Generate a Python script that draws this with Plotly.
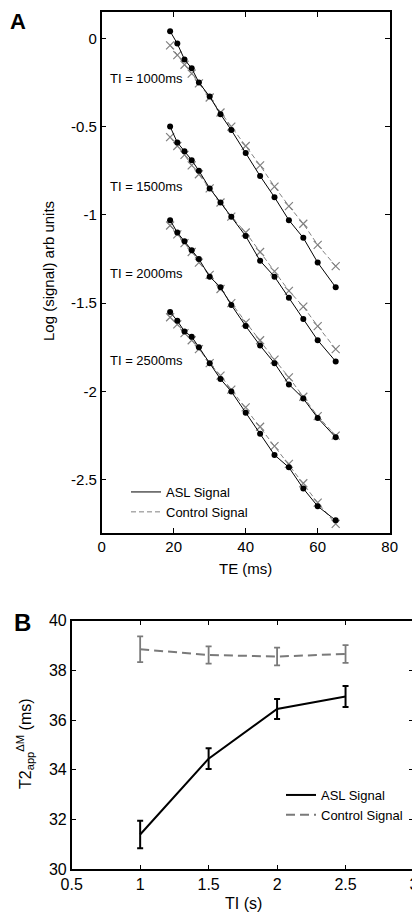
import plotly.graph_objects as go

# ---------------- Panel A data ----------------
te_ms = [19, 21, 23, 25, 27, 30, 33, 36, 40, 44, 48, 52, 56, 60, 65]
ti_labels = ["TI = 1000ms", "TI = 1500ms", "TI = 2000ms", "TI = 2500ms"]
ti_label_y = [-0.225, -0.84, -1.33, -1.825]

asl_1000 = [0.04, -0.03, -0.12, -0.17, -0.25, -0.33, -0.43, -0.52, -0.65, -0.78, -0.90, -1.03, -1.13, -1.27, -1.41]
ctl_1000 = [-0.04, -0.095, -0.15, -0.20, -0.255, -0.335, -0.42, -0.50, -0.61, -0.72, -0.84, -0.95, -1.05, -1.17, -1.29]
asl_1500 = [-0.50, -0.59, -0.64, -0.69, -0.75, -0.85, -0.93, -1.01, -1.12, -1.26, -1.35, -1.47, -1.59, -1.71, -1.83]
ctl_1500 = [-0.56, -0.61, -0.66, -0.72, -0.77, -0.85, -0.93, -1.01, -1.10, -1.21, -1.32, -1.43, -1.52, -1.63, -1.76]
asl_2000 = [-1.03, -1.10, -1.15, -1.20, -1.25, -1.35, -1.41, -1.51, -1.63, -1.74, -1.84, -1.96, -2.04, -2.15, -2.26]
ctl_2000 = [-1.06, -1.11, -1.16, -1.21, -1.27, -1.34, -1.42, -1.50, -1.61, -1.71, -1.82, -1.92, -2.03, -2.14, -2.25]
asl_2500 = [-1.55, -1.60, -1.66, -1.69, -1.75, -1.84, -1.93, -2.00, -2.12, -2.24, -2.36, -2.43, -2.55, -2.65, -2.73]
ctl_2500 = [-1.58, -1.62, -1.67, -1.71, -1.76, -1.84, -1.91, -1.99, -2.09, -2.20, -2.31, -2.41, -2.52, -2.63, -2.75]

asl_series = [asl_1000, asl_1500, asl_2000, asl_2500]
ctl_series = [ctl_1000, ctl_1500, ctl_2000, ctl_2500]

a_xticks = [0, 20, 40, 60, 80]
a_yticks = [0, -0.5, -1, -1.5, -2, -2.5]
a_ytick_text = ["0", "-0.5", "-1", "-1.5", "-2", "-2.5"]

# ---------------- Panel B data ----------------
ti_s = [1, 1.5, 2, 2.5]
t2_asl = [31.4, 34.45, 36.45, 36.95]
t2_asl_err = [0.55, 0.42, 0.40, 0.42]
t2_ctl = [38.85, 38.62, 38.56, 38.66]
t2_ctl_err = [0.52, 0.35, 0.36, 0.36]

b_xticks = [0.5, 1, 1.5, 2, 2.5, 3]
b_xtick_text = ["0.5", "1", "1.5", "2", "2.5", "3"]
b_yticks = [30, 32, 34, 36, 38, 40]

# page body has an 8px margin: figure is placed at (8, 8)
OFF = 8
W, H = 420 - OFF, 916 - OFF
FONT = "Liberation Sans, Arial, Helvetica, sans-serif"
GRAY = "#808080"

def px_x(p):
    return (p - OFF) / W

def px_y(p):
    return 1 - (p - OFF) / H

fig = go.Figure()

# Panel A traces
for i in range(4):
    fig.add_trace(go.Scatter(
        x=te_ms, y=ctl_series[i], mode="lines+markers",
        line=dict(color=GRAY, width=1, dash="5px,3px"),
        marker=dict(symbol="x-thin-open", size=8, line=dict(color=GRAY, width=1.2)),
        showlegend=False, xaxis="x", yaxis="y"))
for i in range(4):
    fig.add_trace(go.Scatter(
        x=te_ms, y=asl_series[i], mode="lines+markers",
        line=dict(color="black", width=1),
        marker=dict(symbol="circle", size=6, color="black"),
        showlegend=False, xaxis="x", yaxis="y"))

# Panel A legend entries (line only)
fig.add_trace(go.Scatter(x=[None], y=[None], mode="lines", name="ASL Signal",
                         line=dict(color="black", width=1), legend="legend",
                         xaxis="x", yaxis="y"))
fig.add_trace(go.Scatter(x=[None], y=[None], mode="lines", name="Control Signal",
                         line=dict(color=GRAY, width=1, dash="5px,3px"), legend="legend",
                         xaxis="x", yaxis="y"))

# Panel B traces
fig.add_trace(go.Scatter(
    x=ti_s, y=t2_ctl, mode="lines", name="Control Signal",
    line=dict(color="#7a7a7a", width=2, dash="9px,5px"),
    error_y=dict(type="data", array=t2_ctl_err, color="#7a7a7a", thickness=1.8, width=3),
    legend="legend2", xaxis="x2", yaxis="y2"))
fig.add_trace(go.Scatter(
    x=ti_s, y=t2_asl, mode="lines", name="ASL Signal",
    line=dict(color="black", width=2),
    error_y=dict(type="data", array=t2_asl_err, color="black", thickness=2, width=3),
    legend="legend2", xaxis="x2", yaxis="y2"))

axis_common = dict(
    showgrid=False, zeroline=False, showline=True, linecolor="black", linewidth=1.5,
    mirror="allticks", ticks="inside", ticklen=5, tickwidth=1, tickcolor="black",
    automargin=False,
)

annotations = []
for lab, yv in zip(ti_labels, ti_label_y):
    annotations.append(dict(x=1.8, y=yv, xref="x", yref="y", text=lab, showarrow=False,
                            xanchor="left", yanchor="middle",
                            font=dict(size=13, color="black", family=FONT)))

# Axis titles and panel letters
annotations += [
    dict(x=px_x(245), y=px_y(568), xref="paper", yref="paper", text="TE (ms)", showarrow=False,
         xanchor="center", yanchor="middle", font=dict(size=15, color="black", family=FONT)),
    dict(x=px_x(48), y=px_y(271), xref="paper", yref="paper", text="Log (signal) arb units",
         showarrow=False, textangle=-90, xanchor="center", yanchor="middle",
         font=dict(size=15, color="black", family=FONT)),
    dict(x=px_x(243), y=px_y(903), xref="paper", yref="paper", text="TI (s)", showarrow=False,
         xanchor="center", yanchor="middle", font=dict(size=16, color="black", family=FONT)),
    dict(x=px_x(25), y=px_y(744), xref="paper", yref="paper",
         text="T2<sub>app</sub><sup>ΔM</sup> (ms)", showarrow=False, textangle=-90,
         xanchor="center", yanchor="middle", font=dict(size=16, color="black", family=FONT)),
    dict(x=px_x(8), y=px_y(21), xref="paper", yref="paper", text="<b>A</b>", showarrow=False,
         xanchor="left", yanchor="middle", font=dict(size=22, color="black", family=FONT)),
    dict(x=px_x(12), y=px_y(622), xref="paper", yref="paper", text="<b>B</b>", showarrow=False,
         xanchor="left", yanchor="middle", font=dict(size=24, color="black", family=FONT)),
]

fig.update_layout(
    width=W, height=H,
    margin=dict(l=0, r=0, t=0, b=0),
    paper_bgcolor="white", plot_bgcolor="white",
    font=dict(family=FONT, size=15, color="black"),
    xaxis=dict(domain=[px_x(101.7), px_x(389.7)], range=[0, 80], tickvals=a_xticks,
               anchor="y", tickfont=dict(size=15), **axis_common),
    yaxis=dict(domain=[px_y(532.7), px_y(12)], range=[-2.8, 0.149], tickvals=a_yticks,
               ticktext=a_ytick_text, anchor="x", tickfont=dict(size=15), **axis_common),
    xaxis2=dict(domain=[px_x(71.7), px_x(414)], range=[0.5, 3], tickvals=b_xticks,
                ticktext=b_xtick_text, anchor="y2", tickfont=dict(size=16), **axis_common),
    yaxis2=dict(domain=[px_y(869.3), px_y(620.7)], range=[30, 40], tickvals=b_yticks,
                anchor="x2", tickfont=dict(size=16), **axis_common),
    legend=dict(x=px_x(126), y=px_y(477), xanchor="left", yanchor="top",
                bgcolor="rgba(0,0,0,0)", font=dict(size=13, family=FONT),
                tracegroupgap=0, itemwidth=30),
    legend2=dict(x=px_x(281), y=px_y(780), xanchor="left", yanchor="top",
                 bgcolor="rgba(0,0,0,0)", font=dict(size=13, family=FONT),
                 tracegroupgap=0, itemwidth=30, traceorder="reversed"),
    annotations=annotations,
)

fig.write_html("out.html")
